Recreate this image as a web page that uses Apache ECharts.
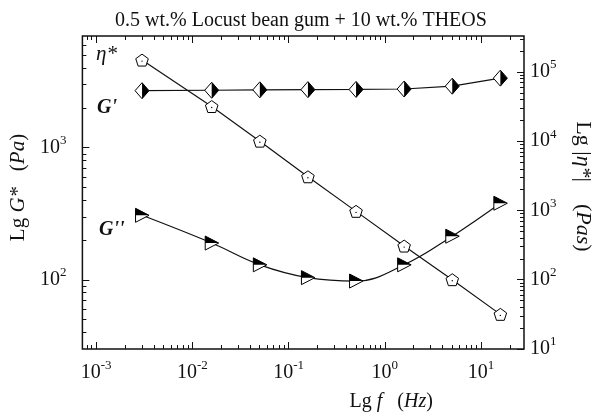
<!DOCTYPE html>
<html>
<head>
<meta charset="utf-8">
<script src="https://cdn.jsdelivr.net/npm/echarts@6/dist/echarts.min.js"></script>
<style>
  html, body { margin: 0; padding: 0; background: #fff; }
  #chart { width: 602px; height: 417px; }
</style>
</head>
<body>
<div id="chart"></div>
<script>
// frequency (Hz)
var freq = [0.0030, 0.0159, 0.0503, 0.159, 0.503, 1.59, 5.03, 15.9];
// G' and G'' (Pa), |eta*| (Pa s)
var gPrime = [2700, 2720, 2740, 2750, 2760, 2780, 2920, 3360];
var gDouble = [308, 190, 130, 104, 98, 130, 214, 380];
var etaStar = [148000, 31600, 10000, 3060, 970, 306, 100, 31.6];

var xMajor = [1e-3, 1e-2, 1e-1, 1e0, 1e1];
var gMajor = [1e2, 1e3];
var etaMajor = [1e1, 1e2, 1e3, 1e4, 1e5];

var FONT = "Liberation Serif";

function minorsOf(lo, hi) {
    var out = [];
    for (var e = Math.floor(Math.log10(lo)); e <= Math.ceil(Math.log10(hi)); e++) {
        for (var k = 2; k <= 9; k++) {
            var v = k * Math.pow(10, e);
            if (v > lo && v < hi) out.push(v);
        }
    }
    return out;
}

function powLabel(v) {
    var e = Math.round(Math.log10(v));
    return "{b|10}{s|" + e + "}";
}

function svgSymbol(svg) {
    return "image://data:image/svg+xml;charset=utf-8," + encodeURIComponent(svg);
}

var diamondSym = svgSymbol("<svg xmlns='http://www.w3.org/2000/svg' width='16' height='18' viewBox='0 0 16 18'>" +
    "<path d='M8 1 L15 9 L8 17 L1 9 Z' fill='white' stroke='black' stroke-width='1'/>" +
    "<path d='M8 1 L15 9 L8 17 Z' fill='black'/></svg>");
var triSym = svgSymbol("<svg xmlns='http://www.w3.org/2000/svg' width='16' height='16' viewBox='0 0 16 16'>" +
    "<path d='M1.5 1 L15 8 L1.5 15 Z' fill='white' stroke='black' stroke-width='1'/>" +
    "<path d='M1.5 1 L15 8 L1.5 8 Z' fill='black'/></svg>");
var pentSym = (function () {
    var pts = [];
    for (var i = 0; i < 5; i++) {
        var a = (-90 + i * 72) * Math.PI / 180;
        pts.push((8 + 6.6 * Math.cos(a)).toFixed(2) + " " + (8.6 + 6.6 * Math.sin(a)).toFixed(2));
    }
    return svgSymbol("<svg xmlns='http://www.w3.org/2000/svg' width='16' height='16' viewBox='0 0 16 16'>" +
        "<path d='M" + pts.join(" L") + " Z' fill='white' stroke='black' stroke-width='1'/>" +
        "<circle cx='8' cy='9' r='0.7' fill='black'/></svg>");
})();

var xMin = 7.2e-4, xMax = 28;
var gMin = 30, gMax = 7000;
var eMin = 10, eMax = 3.3e5;

var richTick = {
    b: { fontFamily: FONT, fontSize: 20, color: "#111" },
    s: { fontFamily: FONT, fontSize: 13, color: "#111", padding: [0, 0, 14, 0] }
};

function logAxis(opt) {
    var base = {
        type: "log",
        logBase: 10,
        axisLine: { show: false },
        splitLine: { show: false },
        axisTick: { show: true, inside: true, length: 6, lineStyle: { color: "#111", width: 1 } },
        axisLabel: { show: false }
    };
    return Object.assign(base, opt);
}

var chart = echarts.init(document.getElementById("chart"));

var option = {
    backgroundColor: "#fff",
    animation: false,
    title: {
        text: "0.5 wt.% Locust bean gum + 10 wt.% THEOS",
        left: "center",
        top: 6,
        textStyle: { fontFamily: FONT, fontSize: 20, fontWeight: "normal", color: "#111" }
    },
    grid: { left: 80, right: 72, top: 36, bottom: 65, show: true, borderColor: "#111", borderWidth: 1.5 },
    xAxis: [
        logAxis({
            min: xMin, max: xMax, position: "bottom",
            axisTick: { show: true, inside: true, length: 7, customValues: xMajor, lineStyle: { color: "#111", width: 1 } },
            axisLabel: { show: true, customValues: xMajor, margin: 10, formatter: powLabel, rich: richTick },
            name: "{r|Lg }{i|f}{r|   (}{i|Hz}{r|)}",
            nameLocation: "middle",
            nameGap: 43,
            nameTextStyle: {
                padding: [0, 0, 0, 176],
                rich: {
                    r: { fontFamily: FONT, fontSize: 20, color: "#111" },
                    i: { fontFamily: FONT, fontSize: 20, fontStyle: "italic", color: "#111" }
                }
            }
        }),
        logAxis({
            min: xMin, max: xMax, position: "bottom",
            axisTick: { show: true, inside: true, length: 4, customValues: minorsOf(xMin, xMax), lineStyle: { color: "#111", width: 1 } }
        }),
        logAxis({
            min: xMin, max: xMax, position: "top",
            axisTick: { show: true, inside: true, length: 7, customValues: xMajor, lineStyle: { color: "#111", width: 1 } }
        }),
        logAxis({
            min: xMin, max: xMax, position: "top",
            axisTick: { show: true, inside: true, length: 4, customValues: minorsOf(xMin, xMax), lineStyle: { color: "#111", width: 1 } }
        })
    ],
    yAxis: [
        logAxis({
            min: gMin, max: gMax, position: "left",
            axisTick: { show: true, inside: true, length: 7, customValues: gMajor, lineStyle: { color: "#111", width: 1 } },
            axisLabel: { show: true, customValues: gMajor, margin: 16, formatter: powLabel, rich: richTick },
            name: "{r|Lg }{i|G*}{r|   (}{i|Pa}{r|)}",
            nameLocation: "middle",
            nameRotate: 90,
            nameGap: 52,
            nameTextStyle: {
                padding: [0, 0, 0, 10],
                rich: {
                    r: { fontFamily: FONT, fontSize: 21, color: "#111" },
                    i: { fontFamily: FONT, fontSize: 21, fontStyle: "italic", color: "#111" }
                }
            }
        }),
        logAxis({
            min: gMin, max: gMax, position: "left",
            axisTick: { show: true, inside: true, length: 4, customValues: minorsOf(gMin, gMax), lineStyle: { color: "#111", width: 1 } }
        }),
        logAxis({
            min: eMin, max: eMax, position: "right",
            axisTick: { show: true, inside: true, length: 7, customValues: etaMajor, lineStyle: { color: "#111", width: 1 } },
            axisLabel: { show: true, customValues: etaMajor, margin: 6, formatter: powLabel, rich: richTick },
            name: "{r|Lg |}{i|η*}{r||    (}{i|Pas}{r|)}",
            nameLocation: "middle",
            nameRotate: -90,
            nameGap: 48,
            nameTextStyle: {
                padding: [0, 12, 0, 0],
                rich: {
                    r: { fontFamily: FONT, fontSize: 22, color: "#111" },
                    i: { fontFamily: FONT, fontSize: 22, fontStyle: "italic", color: "#111" }
                }
            }
        }),
        logAxis({
            min: eMin, max: eMax, position: "right",
            axisTick: { show: true, inside: true, length: 4, customValues: minorsOf(eMin, eMax), lineStyle: { color: "#111", width: 1 } }
        })
    ],
    graphic: [
        { type: "text", left: 96, top: 44, style: { text: "η*", font: "italic 21px " + FONT, fill: "#111" } },
        { type: "text", left: 97, top: 98, style: { text: "G'", font: "italic bold 20px " + FONT, fill: "#111" } },
        { type: "text", left: 99, top: 220, style: { text: "G''", font: "italic bold 20px " + FONT, fill: "#111" } }
    ],
    series: [
        {
            name: "G'",
            type: "line",
            xAxisIndex: 0, yAxisIndex: 0,
            data: freq.map(function (f, i) { return [f, gPrime[i]]; }),
            lineStyle: { color: "#111", width: 1.2 },
            symbol: diamondSym, symbolSize: [16, 18], showAllSymbol: true, z: 3
        },
        {
            name: "G''",
            type: "line",
            xAxisIndex: 0, yAxisIndex: 0,
            smooth: 0.4,
            data: freq.map(function (f, i) { return [f, gDouble[i]]; }),
            lineStyle: { color: "#111", width: 1.2 },
            symbol: triSym, symbolSize: [16, 16], showAllSymbol: true, z: 3
        },
        {
            name: "η*",
            type: "line",
            xAxisIndex: 0, yAxisIndex: 2,
            data: freq.map(function (f, i) { return [f, etaStar[i]]; }),
            lineStyle: { color: "#111", width: 1.2 },
            symbol: pentSym, symbolSize: [16, 16], showAllSymbol: true, z: 3
        }
    ]
};

chart.setOption(option);
</script>
</body>
</html>
